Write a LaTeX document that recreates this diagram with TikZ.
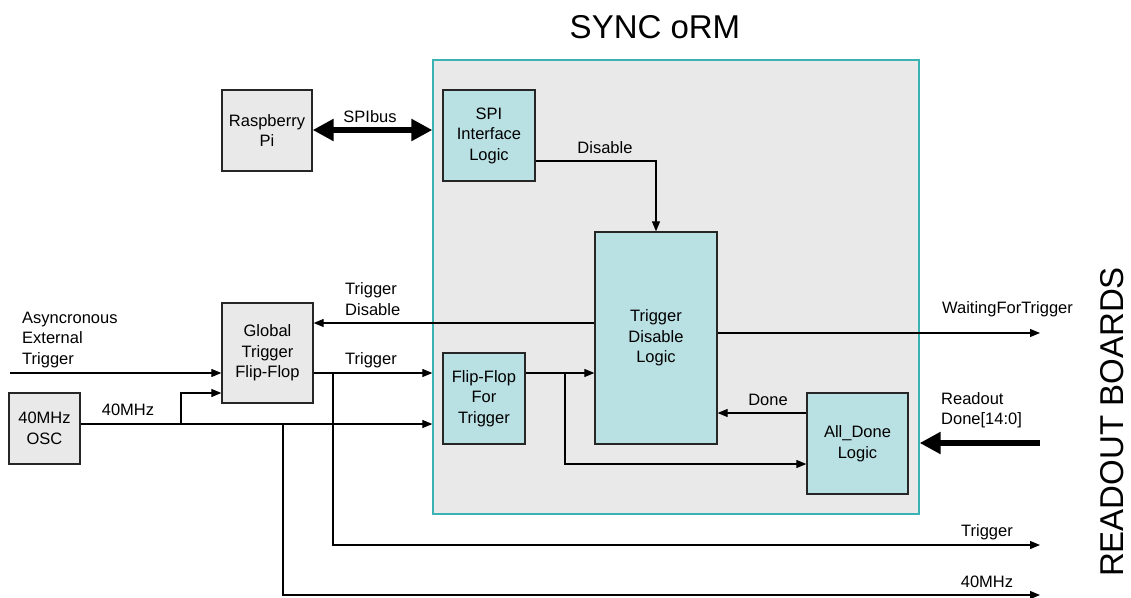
\documentclass[tikz,border=0pt]{standalone}
\usepackage{fontspec}
\setmainfont{Liberation Sans}
\usetikzlibrary{arrows.meta,calc}
\definecolor{boxgray}{HTML}{E9E9E9}
\definecolor{boxteal}{HTML}{B9E0E3}
\definecolor{outerline}{HTML}{3BB3B3}
\begin{document}
\begin{tikzpicture}[x=1pt,y=-1pt,
  every node/.style={font=\fontsize{16.5}{20.5}\selectfont, inner sep=0pt},
  graybox/.style={draw=black!85, line width=1.3pt, fill=boxgray, align=center},
  tealbox/.style={draw=black!85, line width=1.3pt, fill=boxteal, align=center},
  sig/.style={line width=1.1pt, -{Triangle[length=10pt,width=8pt]}},
  wire/.style={line width=1.1pt},
  bigarrow/.style={line width=6pt, {Triangle[length=21pt,width=21pt]}-{Triangle[length=21pt,width=21pt]}},
  bigin/.style={line width=6pt, -{Triangle[length=21pt,width=21pt]}},
  lbl/.style={}]
\useasboundingbox (0,0) rectangle (1131,597);
% outer SYNC box
\node[draw=outerline, line width=1.3pt, fill=boxgray, minimum width=486pt, minimum height=454pt] (outer) at (676,287) {};
\node[font=\fontsize{33}{36}\selectfont] (title) at (655,27) {SYNC oRM};
% boxes
\node[graybox, minimum width=90pt, minimum height=81pt] (rpi) at (267,130.5) {Raspberry\\Pi};
\node[tealbox, minimum width=92pt, minimum height=91pt] (spi) at (489,135.5) {SPI\\Interface\\Logic};
\node[tealbox, minimum width=122pt, minimum height=212pt] (tdl) at (656,338) {Trigger\\Disable\\Logic};
\node[tealbox, minimum width=82pt, minimum height=91pt] (fft) at (484,398.5) {Flip-Flop\\For\\Trigger};
\node[tealbox, minimum width=101pt, minimum height=101pt] (ald) at (857.5,443.5) {All\_Done\\Logic};
\node[graybox, minimum width=91pt, minimum height=100pt] (gtff) at (267.5,353) {Global\\Trigger\\Flip-Flop};
\node[graybox, minimum width=71pt, minimum height=71pt] (osc) at (44.5,428.5) {40MHz\\OSC};
% helper coordinates
\coordinate (asyncin) at (10,373);
\coordinate (wftout) at (1040,333);
\coordinate (trigout) at (1040,545);
\coordinate (clkout) at (1040,595);
\coordinate (rdin) at (1040,443);
% SPI bus
\draw[bigarrow] (rpi.east |- 0,130) -- (outer.west |- 0,130);
\node (spibus) at (370,117) {SPIbus};
% Disable
\draw[sig] ([yshift=-25.5pt]spi.east) -| (tdl.north);
\node (disl) at (605,148) {Disable};
% Trigger disable back to global FF
\draw[sig] ([yshift=15pt]tdl.west) -- (gtff.east |- 0,323);
\node[align=left, anchor=west] (tdisl) at (345,299) {Trigger\\Disable};
% Waiting for trigger
\draw[sig] ([yshift=5pt]tdl.east) -- (wftout);
\node (wftl) at (1007.5,309) {WaitingForTrigger};
% Done
\draw[sig] ([yshift=30.5pt]ald.west) -- (tdl.east |- 0,413);
\node (donel) at (768,400) {Done};
% flip-flop output
\draw[sig] ([yshift=25.5pt]fft.east) -- (tdl.west |- 0,373);
\draw[sig] (565,373) |- ([yshift=-20.5pt]ald.west);
% async external trigger
\draw[sig] (asyncin) -- (gtff.west |- asyncin);
\node[align=left, anchor=west] (asyncl) at (22,340) {Asyncronous\\External\\Trigger};
% global trigger out
\draw[sig] ([yshift=-20pt]gtff.east) -- (outer.west |- 0,373);
\node (trigl) at (371,360) {Trigger};
\draw[sig] (333,373) |- (trigout);
\node (trigl2) at (987,532) {Trigger};
% 40 MHz
\draw[sig] ([yshift=4.5pt]osc.east) -- (outer.west |- 0,424);
\draw[sig] (181,424) |- ([yshift=-40pt]gtff.west);
\node (clkl) at (128,410) {40MHz};
\draw[sig] (283,424) |- (clkout);
\node (clkl2) at (987,582) {40MHz};
% Readout done
\draw[bigin] (rdin) -- (outer.east |- rdin);
\node[align=left, anchor=west] (rdl) at (941,410) {Readout\\Done[14:0]};
% side label
\node[rotate=90, font=\fontsize{33}{36}\selectfont] (rb) at (1112,422) {READOUT BOARDS};
\end{tikzpicture}
\end{document}
